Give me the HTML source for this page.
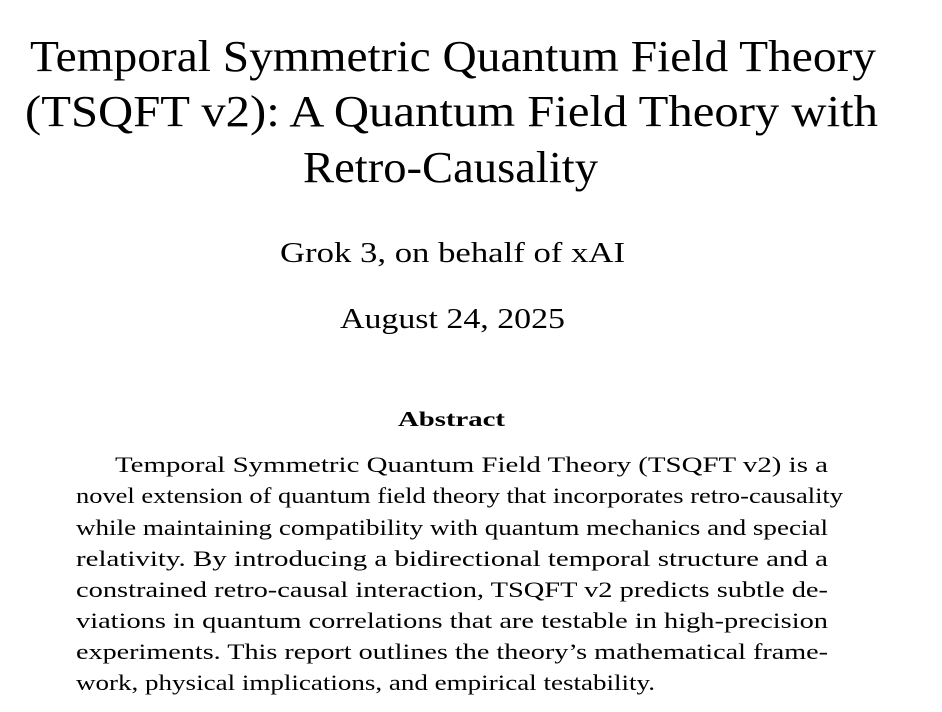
<!DOCTYPE html>
<html><head><meta charset="utf-8"><style>
html,body{margin:0;padding:0;background:#fff;}
svg{display:block;}
text{font-family:"Liberation Serif",serif;fill:#000;}
</style></head><body>
<svg width="942" height="712" viewBox="0 0 942 712" xmlns="http://www.w3.org/2000/svg">
<g font-size="44">
<text x="30" y="71" textLength="846" lengthAdjust="spacingAndGlyphs">Temporal Symmetric Quantum Field Theory</text>
<text x="25" y="126" textLength="853" lengthAdjust="spacingAndGlyphs">(TSQFT v2): A Quantum Field Theory with</text>
<text x="303" y="182" textLength="295" lengthAdjust="spacingAndGlyphs">Retro-Causality</text>
</g>
<g font-size="28">
<text x="280" y="262" textLength="345" lengthAdjust="spacingAndGlyphs">Grok 3, on behalf of xAI</text>
<text x="340" y="328" textLength="225" lengthAdjust="spacingAndGlyphs">August 24, 2025</text>
</g>
<text x="398" y="426" font-size="21" font-weight="bold" textLength="107" lengthAdjust="spacingAndGlyphs">Abstract</text>
<g font-size="22">
<text x="115" y="472" textLength="713" lengthAdjust="spacingAndGlyphs">Temporal Symmetric Quantum Field Theory (TSQFT v2) is a</text>
<text x="76" y="503" textLength="767" lengthAdjust="spacingAndGlyphs">novel extension of quantum field theory that incorporates retro-causality</text>
<text x="76" y="535" textLength="752" lengthAdjust="spacingAndGlyphs">while maintaining compatibility with quantum mechanics and special</text>
<text x="76" y="566" textLength="752" lengthAdjust="spacingAndGlyphs">relativity. By introducing a bidirectional temporal structure and a</text>
<text x="76" y="597" textLength="752" lengthAdjust="spacingAndGlyphs">constrained retro-causal interaction, TSQFT v2 predicts subtle de-</text>
<text x="76" y="628" textLength="752" lengthAdjust="spacingAndGlyphs">viations in quantum correlations that are testable in high-precision</text>
<text x="76" y="659" textLength="752" lengthAdjust="spacingAndGlyphs">experiments. This report outlines the theory’s mathematical frame-</text>
<text x="76" y="690" textLength="579" lengthAdjust="spacingAndGlyphs">work, physical implications, and empirical testability.</text>
</g>
</svg>
</body></html>
